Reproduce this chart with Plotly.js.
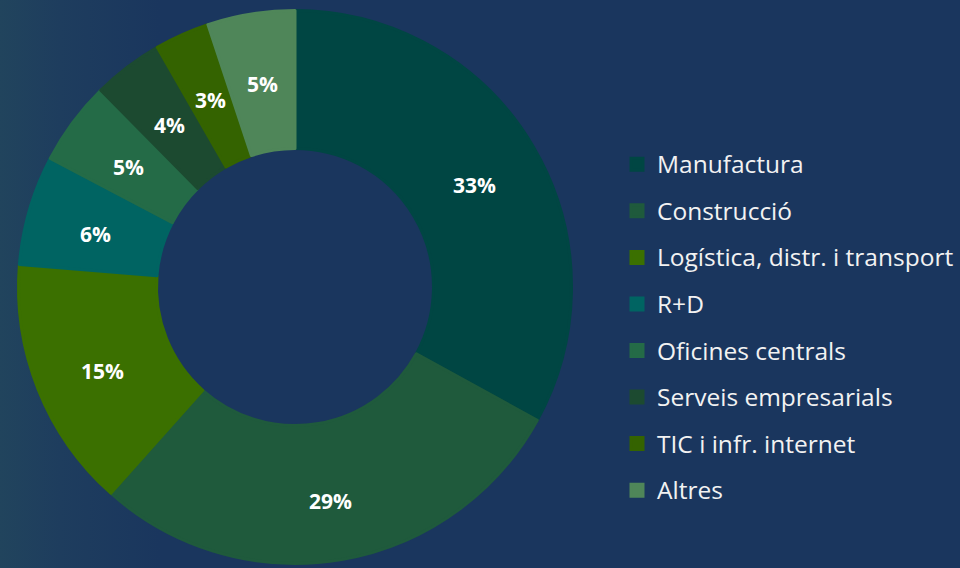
<!DOCTYPE html>
<html>
<head>
<meta charset="utf-8">
<script src="https://cdn.plot.ly/plotly-3.0.1.min.js"></script>
<style>
  html, body { margin: 0; padding: 0; width: 960px; height: 568px; overflow: hidden;
    background: linear-gradient(to right, #21445d 0px, #1e3d5e 60px, #1a365e 160px, #1a365e 960px); }
  #chart { width: 960px; height: 568px; }
</style>
</head>
<body>
<div id="chart"></div>
<script>
// Data (share by sector, %)
const categories = ["Manufactura", "Construcció", "Logística, distr. i transport", "R+D",
                    "Oficines centrals", "Serveis empresarials", "TIC i infr. internet", "Altres"];
const shares = [33.0, 28.6, 14.7, 6.4, 4.9, 4.1, 3.2, 5.1];
const colors = ["#004643", "#1f5a3c", "#3b7000", "#006462", "#246b47", "#1c4a30", "#346300", "#4f8659"];

const W = 960, H = 568;
const cx = 295, cy = 287;
const R = 276.5;          // outer radius of pie path (stroke adds 1.5px)
const rIn = 138.5;        // inner radius of pie path
// label placement (mid-ring, slightly lowered like the original)
const labelCx = cx + 0.5, labelCy = cy + 5.8, labelRx = 208, labelRy = 211.3;

const trace = {
  type: "pie",
  labels: categories.map(c => '<span style="font-size:24.5px;baseline-shift:4px">' + c + '</span>'),
  values: shares,
  sort: false,
  direction: "clockwise",
  rotation: 0,
  hole: rIn / R,
  marker: { colors: colors, line: { color: colors, width: 3 } },
  textposition: "none",
  domain: { x: [(cx - R) / W, (cx + R) / W], y: [(H - cy - R) / H, (H - cy + R) / H] },
  hoverinfo: "label+percent"
};

// Percentage labels placed in the middle of each slice's ring, computed from the data
const total = shares.reduce((a, b) => a + b, 0);
let cum = 0;
const annotations = shares.map((v, i) => {
  const mid = (cum + v / 2) / total * 2 * Math.PI;
  cum += v;
  const px = labelCx + labelRx * Math.sin(mid);
  const py = labelCy - labelRy * Math.cos(mid);
  return {
    xref: "paper", yref: "paper",
    x: px / W, y: 1 - py / H,
    xanchor: "center", yanchor: "middle",
    showarrow: false,
    text: "<b>" + Math.round(v / total * 100) + "%</b>",
    font: { family: "Open Sans", size: 21, color: "#ffffff" }
  };
});

const layout = {
  width: W, height: H,
  margin: { l: 0, r: 0, t: 0, b: 0 },
  paper_bgcolor: "rgba(0,0,0,0)",
  plot_bgcolor: "rgba(0,0,0,0)",
  showlegend: true,
  legend: {
    x: 617 / W, xanchor: "left",
    y: 1 - 136 / H, yanchor: "top",
    font: { family: "Open Sans", size: 33.5, color: "#f2f2f2" },
    bgcolor: "rgba(0,0,0,0)",
    borderwidth: 0
  },
  annotations: annotations,
  font: { family: "Open Sans" }
};

Plotly.newPlot("chart", [trace], layout, { displayModeBar: false, staticPlot: true });
</script>
</body>
</html>
